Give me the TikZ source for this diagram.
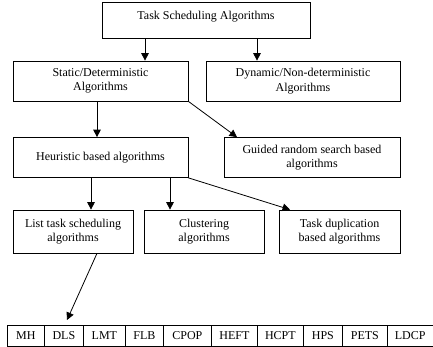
\documentclass[tikz,border=0pt]{standalone}
\usepackage{fontspec}
\setmainfont{Liberation Serif}
\usetikzlibrary{arrows.meta,calc}
\begin{document}
\begin{tikzpicture}[x=1pt,y=-1pt,
  box/.style={draw,line width=0.7pt,align=center,font=\fontsize{12}{14.5}\selectfont,inner sep=0pt},
  cell/.style={draw,line width=0.7pt,anchor=north west,minimum height=21pt,inner sep=0pt,font=\fontsize{12}{13.5}\selectfont},
  arr/.style={line width=0.8pt,-{Triangle[length=7.5pt,width=7.5pt]}}]
\useasboundingbox (0,0) rectangle (433,347);
\node[box,minimum width=208pt,minimum height=36pt] (top) at (206,20) {};
\node[font=\fontsize{12}{14.5}\selectfont,inner sep=0pt] (toptext) at (206,16.5) {Task Scheduling Algorithms};
\node[box,minimum width=175pt,minimum height=40pt] (static) at (100.5,81) {Static/Deterministic\\Algorithms};
\node[box,minimum width=194pt,minimum height=40pt] (dynamic) at (303,81) {Dynamic/Non-deterministic\\Algorithms};
\node[box,minimum width=175pt,minimum height=40pt] (heur) at (100.5,157.5) {Heuristic based algorithms};
\node[box,minimum width=176pt,minimum height=40pt] (guided) at (312,157.5) {Guided random search based\\algorithms};
\node[box,minimum width=120pt,minimum height=43pt] (list) at (73,231.5) {List task scheduling\\algorithms};
\node[box,minimum width=120pt,minimum height=43pt] (clus) at (204,231.5) {Clustering\\algorithms};
\node[box,minimum width=121pt,minimum height=43pt] (dup) at (339.5,231.5) {Task duplication\\based algorithms};
% table
\node[cell,minimum width=37pt] (mh) at (7,325) {MH};
\node[cell,minimum width=39pt] (dls) at (44,325) {DLS};
\node[cell,minimum width=42pt] (lmt) at (83,325) {LMT};
\node[cell,minimum width=38pt] (flb) at (125,325) {FLB};
\node[cell,minimum width=48pt] (cpop) at (163,325) {CPOP};
\node[cell,minimum width=46pt] (heft) at (211,325) {HEFT};
\node[cell,minimum width=46pt] (hcpt) at (257,325) {HCPT};
\node[cell,minimum width=39pt] (hps) at (303,325) {HPS};
\node[cell,minimum width=45pt] (pets) at (342,325) {PETS};
\node[cell,minimum width=45.5pt] (ldcp) at (387,325) {LDCP};
% guide coordinates
\coordinate (c1) at (145,0);
\coordinate (c2) at (257,0);
\coordinate (c3) at (97,0);
\coordinate (c4) at (237,0);
\coordinate (c5) at (91,0);
\coordinate (c6) at (170,0);
\coordinate (c7) at (290,0);
\coordinate (tip) at (67,320);
% arrows
\draw[arr] (top.south -| c1) -- (static.north -| c1);
\draw[arr] (top.south -| c2) -- (dynamic.north -| c2);
\draw[arr] (static.south -| c3) -- (heur.north -| c3);
\draw[arr] (static.south east) -- (guided.north -| c4);
\draw[arr] (heur.south -| c5) -- (list.north -| c5);
\draw[arr] (heur.south -| c6) -- (clus.north -| c6);
\draw[arr] (heur.south east) -- (dup.north -| c7);
\draw[arr] (list.south -| c3) -- (tip);
\end{tikzpicture}
\end{document}
